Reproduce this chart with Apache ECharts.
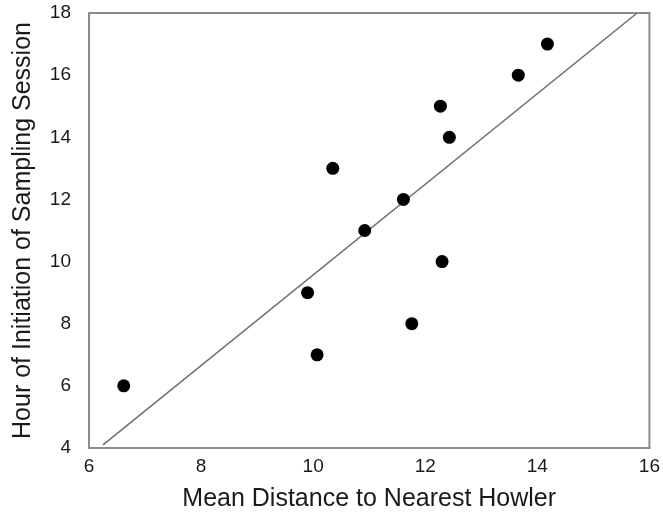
<!DOCTYPE html>
<html><head><meta charset="utf-8">
<script src="https://cdn.jsdelivr.net/npm/echarts@6/dist/echarts.min.js"></script>
<style>html,body{margin:0;padding:0;background:#fff}#c{width:663px;height:517px}</style>
</head><body><div id="c"></div>
<script>
const xValues = [6.62, 9.9, 10.07, 10.35, 10.92, 11.61, 11.76, 12.3, 12.27, 12.43, 13.66, 14.18];
const yValues = [6, 9, 7, 13, 11, 12, 8, 10, 15, 14, 16, 17];
const trendX = [6.25, 15.78];
const trendY = [4.1, 18];
const xTitle = 'Mean Distance to Nearest Howler';
const yTitle = 'Hour of Initiation of Sampling Session';

const chart = echarts.init(document.getElementById('c'));
const font = '"Liberation Sans", Arial, sans-serif';
chart.setOption({
  animation: false,
  grid: {left: 89, right: 8, top: 13, bottom: 68, show: true, borderColor: '#8c8c8c', borderWidth: 2},
  xAxis: {
    type: 'value', min: 6, max: 16, interval: 2,
    name: xTitle, nameLocation: 'middle', nameGap: 39,
    nameTextStyle: {fontFamily: font, fontSize: 25, color: '#1a1a1a'},
    axisLine: {show: true, lineStyle: {color: '#8c8c8c', width: 2}},
    axisTick: {show: false}, splitLine: {show: false},
    axisLabel: {fontFamily: font, fontSize: 19, color: '#1a1a1a', margin: 9}
  },
  yAxis: {
    type: 'value', min: 4, max: 18, interval: 2,
    name: yTitle, nameLocation: 'middle', nameGap: 53,
    nameTextStyle: {fontFamily: font, fontSize: 25, color: '#1a1a1a'},
    axisLine: {show: true, lineStyle: {color: '#8c8c8c', width: 2}},
    axisTick: {show: false}, splitLine: {show: false},
    axisLabel: {fontFamily: font, fontSize: 19, color: '#1a1a1a', margin: 18}
  },
  series: [
    {type: 'line', data: trendX.map((x, i) => [x, trendY[i]]), symbol: 'none',
     lineStyle: {color: '#6e6e6e', width: 1.5}, z: 1},
    {type: 'scatter', data: xValues.map((x, i) => [x, yValues[i]]), symbolSize: 13,
     itemStyle: {color: '#000', opacity: 1}, z: 2}
  ]
});
</script></body></html>
